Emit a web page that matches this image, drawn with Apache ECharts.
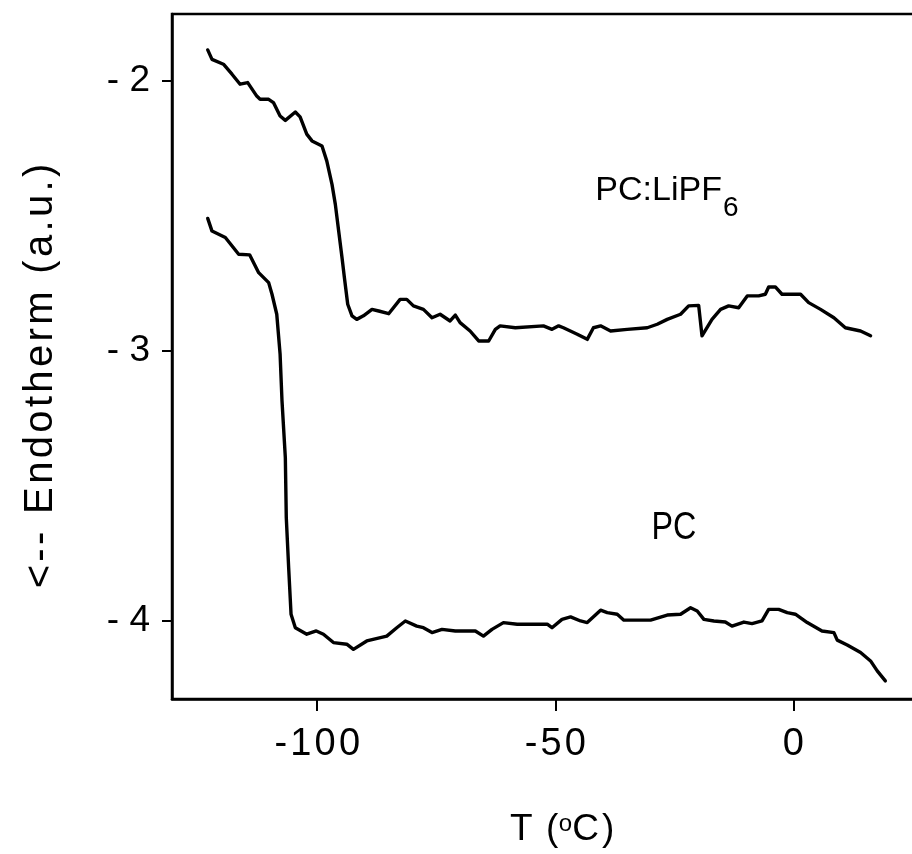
<!DOCTYPE html>
<html><head><meta charset="utf-8">
<script src="https://cdn.jsdelivr.net/npm/echarts@6/dist/echarts.min.js"></script>
<style>html,body{margin:0;padding:0;background:#fff}#c{width:912px;height:854px}</style>
</head><body><div id="c"></div>
<script>
// ---- data (T in °C, signal in a.u.) ----
const xTicks = [-100, -50, 0];
const yTicks = [-4, -3, -2];

const tLiPF6 = [-123.0,-122.1,-119.7,-117.9,-116.2,-114.6,-112.7,-112.0,-110.2,-109.2,-107.8,-106.7,-104.6,-103.6,-102.2,-101.1,-99.0,-98.0,-96.9,-96.2,-95.5,-94.8,-94.3,-93.6,-92.7,-91.7,-90.3,-88.5,-87.1,-85.0,-82.6,-81.2,-79.8,-77.7,-75.9,-74.2,-72.1,-71.0,-70.0,-67.9,-66.1,-64.0,-62.6,-61.6,-58.4,-52.5,-50.7,-49.3,-48.3,-45.4,-43.3,-42.0,-40.5,-38.4,-34.9,-30.7,-28.6,-26.5,-23.7,-22.0,-19.9,-19.2,-18.8,-17.1,-15.3,-13.6,-11.5,-9.7,-7.3,-5.9,-5.2,-3.8,-2.4,1.5,3.2,5.7,8.5,10.9,14.1,16.2];
const vLiPF6 = [-1.885,-1.920,-1.938,-1.975,-2.012,-2.006,-2.056,-2.068,-2.068,-2.080,-2.130,-2.146,-2.115,-2.133,-2.197,-2.222,-2.241,-2.296,-2.383,-2.457,-2.556,-2.654,-2.728,-2.827,-2.870,-2.883,-2.870,-2.846,-2.852,-2.862,-2.809,-2.809,-2.833,-2.846,-2.877,-2.864,-2.889,-2.867,-2.895,-2.926,-2.963,-2.963,-2.920,-2.907,-2.914,-2.907,-2.920,-2.907,-2.914,-2.938,-2.957,-2.914,-2.907,-2.926,-2.920,-2.914,-2.901,-2.883,-2.864,-2.833,-2.831,-2.944,-2.951,-2.883,-2.846,-2.833,-2.840,-2.796,-2.796,-2.790,-2.763,-2.763,-2.790,-2.790,-2.821,-2.846,-2.877,-2.914,-2.926,-2.944];

const tPC = [-123.0,-122.1,-119.3,-116.5,-114.2,-112.3,-110.2,-109.5,-108.5,-107.8,-107.4,-106.7,-106.5,-106.0,-105.5,-104.6,-102.2,-100.2,-98.7,-96.6,-93.8,-92.4,-89.6,-85.4,-83.3,-81.5,-79.1,-77.7,-75.9,-73.8,-71.0,-66.8,-65.1,-63.3,-60.9,-58.0,-51.7,-50.7,-48.6,-46.8,-44.7,-43.3,-40.5,-39.1,-37.0,-35.6,-30.0,-26.5,-23.7,-21.6,-20.2,-18.8,-16.7,-14.3,-12.9,-10.4,-8.7,-6.6,-5.2,-3.1,-1.3,0.4,2.9,6.0,8.5,9.2,11.3,14.1,16.2,17.6,19.3];
const vPC = [-2.509,-2.556,-2.580,-2.642,-2.644,-2.710,-2.747,-2.790,-2.864,-3.012,-3.185,-3.395,-3.617,-3.803,-3.975,-4.025,-4.049,-4.037,-4.049,-4.080,-4.086,-4.105,-4.074,-4.056,-4.025,-4.000,-4.019,-4.025,-4.043,-4.031,-4.037,-4.037,-4.056,-4.031,-4.006,-4.012,-4.012,-4.025,-3.994,-3.985,-4.000,-4.006,-3.960,-3.969,-3.975,-3.997,-3.997,-3.978,-3.975,-3.951,-3.963,-3.994,-4.000,-4.004,-4.019,-4.004,-4.010,-4.000,-3.957,-3.957,-3.969,-3.975,-4.006,-4.037,-4.043,-4.071,-4.089,-4.117,-4.148,-4.185,-4.222];

const seriesNames = ['PC:LiPF', 'PC'];
const labelAnchors = [[-41.6, -2.343], [-29.8, -3.586]];

// ---- helpers ----
const FONT = '"Liberation Sans", Arial, Helvetica, sans-serif';
const sp = s => String(s).split('').join('\u200A');
const zip = (a, b) => a.map((x, i) => [x, b[i]]);
const mctx = document.createElement('canvas').getContext('2d');
const tw = (s, size) => { mctx.font = size + 'px ' + FONT; return mctx.measureText(s).width; };

const chart = echarts.init(document.getElementById('c'), null, {renderer: 'canvas'});
const lineStyle = {color: '#000', width: 3.4, join: 'round', cap: 'round'};

chart.setOption({
  animation: false,
  backgroundColor: '#fff',
  grid: {left: 172, top: 14, width: 750, height: 685, show: true, borderColor: '#000', borderWidth: 2.5, outerBoundsMode: 'none', containLabel: false},
  xAxis: {
    type: 'value', min: -130.5, max: 27,
    axisLine: {show: true, onZero: false, lineStyle: {color: '#000', width: 2.5}},
    axisTick: {show: true, customValues: xTicks, length: 12, lineStyle: {color: '#000', width: 2}},
    axisLabel: {customValues: xTicks, formatter: v => sp(v), fontSize: 38, color: '#000', fontFamily: FONT, margin: 27},
    splitLine: {show: false}
  },
  yAxis: {
    type: 'value', min: -4.289, max: -1.752,
    axisLine: {show: true, onZero: false, lineStyle: {color: '#000', width: 2.5}},
    axisTick: {show: true, customValues: yTicks, length: 10, lineStyle: {color: '#000', width: 2}},
    axisLabel: {customValues: yTicks, formatter: v => '- ' + Math.abs(v), fontSize: 37, color: '#000', fontFamily: FONT, margin: 22},
    splitLine: {show: false}
  },
  series: [
    {name: seriesNames[0], type: 'line', data: zip(tLiPF6, vLiPF6), showSymbol: false, lineStyle: lineStyle, z: 5},
    {name: seriesNames[1], type: 'line', data: zip(tPC, vPC), showSymbol: false, lineStyle: lineStyle, z: 5}
  ]
});

// ---- annotations ----
const p0 = chart.convertToPixel({gridIndex: 0}, labelAnchors[0]);
const p1 = chart.convertToPixel({gridIndex: 0}, labelAnchors[1]);
const mainW = tw(seriesNames[0], 34);
const tx1 = 'T \u200A(', tx2 = 'o', tx3 = 'C\u200A)';
const w1 = tw(tx1, 37), w2 = tw(tx2, 24);

chart.setOption({
  graphic: [
    {type: 'group', x: p0[0], y: p0[1], children: [
      {type: 'text', x: 0, y: 0, style: {text: seriesNames[0], font: '34px ' + FONT, fill: '#000', textAlign: 'left', textVerticalAlign: 'top'}},
      {type: 'text', x: mainW + 1, y: 20.6, style: {text: '6', font: '28px ' + FONT, fill: '#000', textAlign: 'left', textVerticalAlign: 'top'}}
    ]},
    {type: 'text', x: p1[0], y: p1[1], scaleX: 0.85, style: {text: seriesNames[1], font: '38px ' + FONT, fill: '#000', textAlign: 'left', textVerticalAlign: 'top'}},
    {type: 'group', x: 510, y: 811, children: [
      {type: 'text', x: 0, y: 0, style: {text: tx1, font: '37px ' + FONT, fill: '#000', textVerticalAlign: 'top'}},
      {type: 'text', x: w1 + 0.5, y: 1, style: {text: tx2, font: '24px ' + FONT, fill: '#000', textVerticalAlign: 'top'}},
      {type: 'text', x: w1 + w2 + 0.5, y: 0, style: {text: tx3, font: '37px ' + FONT, fill: '#000', textVerticalAlign: 'top'}}
    ]},
    {type: 'text', x: 41, y: 376, rotation: Math.PI / 2, style: {text: sp('<--') + '\u200A \u200A' + sp('Endotherm') + '\u200A \u200A' + sp('(a.u.)'), font: '40px ' + FONT, fill: '#000', textAlign: 'center', textVerticalAlign: 'middle'}}
  ]
});
</script></body></html>
